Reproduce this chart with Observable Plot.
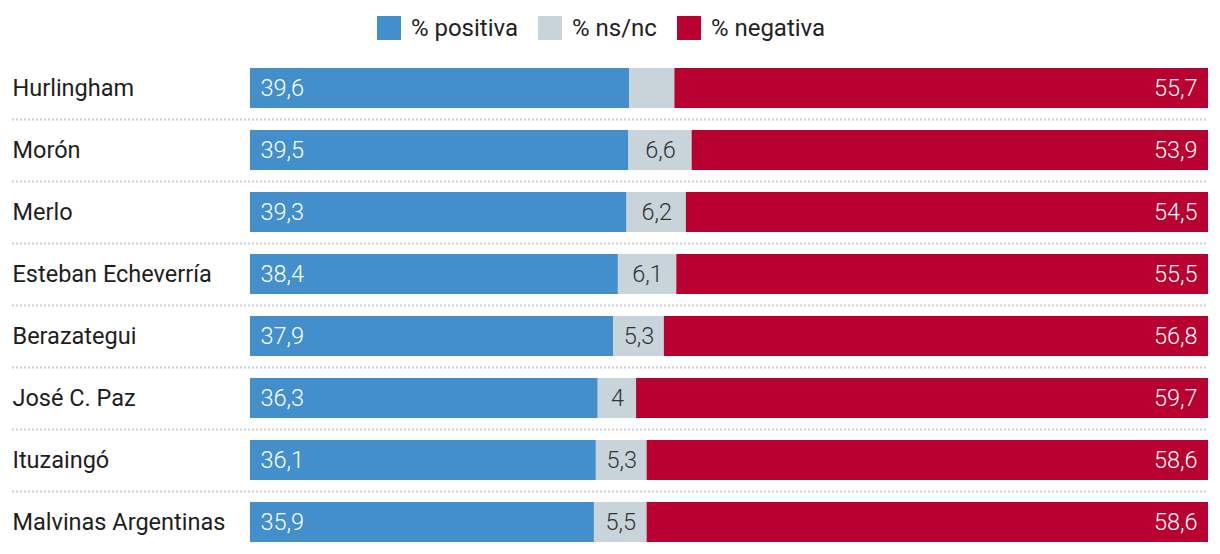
<!DOCTYPE html>
<html>
<head>
<meta charset="utf-8">
<script src="https://cdn.jsdelivr.net/npm/d3@7"></script>
<script src="https://cdn.jsdelivr.net/npm/@observablehq/plot@0.6"></script>
<style>
  body { margin: 0; background: #fff; font-family: Roboto, "Noto Sans", sans-serif; }
  #legend { height: 56px; box-sizing: border-box; padding-top: 16px; padding-right: 18px; display: flex; justify-content: center; gap: 20px; font-size: 24px; color: #222; }
  #legend .item { display: flex; align-items: flex-start; gap: 10px; line-height: 24px; }
  #legend .sw { width: 24px; height: 24px; display: inline-block; }
</style>
</head>
<body>
<div id="legend"></div>
<div id="chart"></div>
<script>
const municipios = ["Hurlingham", "Morón", "Merlo", "Esteban Echeverría", "Berazategui", "José C. Paz", "Ituzaingó", "Malvinas Argentinas"];
const positiva = [39.6, 39.5, 39.3, 38.4, 37.9, 36.3, 36.1, 35.9];
const nsnc = [null, 6.6, 6.2, 6.1, 5.3, 4, 5.3, 5.5];
const negativa = [55.7, 53.9, 54.5, 55.5, 56.8, 59.7, 58.6, 58.6];
const series = ["% positiva", "% ns/nc", "% negativa"];
const colors = ["#428fcb", "#c8d3da", "#b80031"];

const fmt = v => String(v).replace(".", ",");

const rows = municipios.map((name, i) => ({
  name,
  pos: positiva[i],
  ns: nsnc[i],
  neg: negativa[i],
  nsWidth: 100 - positiva[i] - negativa[i]
}));

const segs = rows.flatMap(r => [
  {name: r.name, series: series[0], value: r.pos},
  {name: r.name, series: series[1], value: r.nsWidth},
  {name: r.name, series: series[2], value: r.neg}
]);

// legend
const legend = document.getElementById("legend");
series.forEach((s, i) => {
  const it = document.createElement("div");
  it.className = "item";
  it.innerHTML = `<span class="sw" style="background:${colors[i]}"></span><span>${s}</span>`;
  legend.appendChild(it);
});

const chart = Plot.plot({
  width: 1220,
  height: 498,
  marginLeft: 12,
  marginRight: 12,
  marginTop: 0,
  marginBottom: 0,
  x: {domain: [0, 100], range: [250, 1208], axis: null},
  y: {domain: municipios, paddingInner: 0.355, paddingOuter: 0.19, axis: null},
  color: {domain: series, range: colors},
  style: {fontFamily: "Roboto, 'Noto Sans', sans-serif", background: "#fff"},
  marks: [
    Plot.ruleY(municipios.slice(1), {y: d => d, dy: -31, stroke: "#cfcfcf", strokeWidth: 2, strokeDasharray: "2,2"}),
    Plot.barX(segs, {x: "value", y: "name", fill: "series", order: series}),
    Plot.text(municipios, {y: d => d, frameAnchor: "left", textAnchor: "start", fontSize: 23.5, fill: "#1e1e1e"}),
    Plot.text(rows, {x: 0, y: "name", text: d => fmt(d.pos), dx: 10, textAnchor: "start", fill: "#fff", fontSize: 23.5, fontWeight: 300}),
    Plot.text(rows.filter(d => d.ns != null), {x: d => d.pos + d.nsWidth / 2, y: "name", text: d => fmt(d.ns), fill: "#333", fontSize: 23.5, fontWeight: 300}),
    Plot.text(rows, {x: 100, y: "name", text: d => fmt(d.neg), dx: -11, textAnchor: "end", fill: "#fff", fontSize: 23.5, fontWeight: 300})
  ]
});
document.getElementById("chart").appendChild(chart);
</script>
</body>
</html>
